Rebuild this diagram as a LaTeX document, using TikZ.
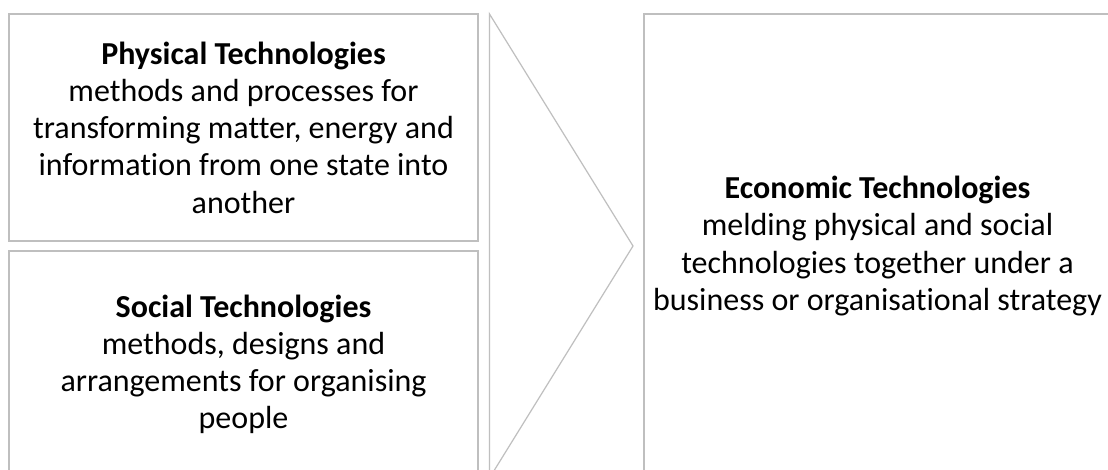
\documentclass[tikz,border=0pt]{standalone}
\usepackage{fontspec}
\setmainfont{Carlito}[Ligatures={NoCommon}]
\definecolor{edgegray}{RGB}{191,191,191}
\tikzset{
  panel/.style={draw=edgegray, line width=1.2pt, fill=white, align=center,
    font=\fontsize{32}{37.2}\selectfont, inner sep=0pt, text=black},
  arrowshape/.style={draw=edgegray, line width=1.2pt, fill=white, line join=miter}
}
\begin{document}
\begin{tikzpicture}[x=1pt,y=-1pt]
\useasboundingbox (0,0) rectangle (1108,470);
\fill[white] (0,0) rectangle (1108,470);
\clip (0,0) rectangle (1108,470);
\node[panel, minimum width=469pt, minimum height=227pt] (phys) at (243.5,127.5)
  {\textbf{Physical Technologies}\\methods and processes for\\transforming matter, energy and\\information from one state into\\another};
\node[panel, minimum width=469pt, minimum height=227pt] (soc) at (243.5,364.5)
  {\textbf{Social Technologies}\\methods, designs and\\arrangements for organising\\people};
\coordinate (chtop) at (489.5,14);
\coordinate (chtip) at (633,246);
\coordinate (chbot) at (489.5,478);
\draw[arrowshape] (chtop) -- (chtip) -- (chbot) -- cycle;
\node[panel, minimum width=467pt, minimum height=464pt] (econ) at (877.5,246)
  {\textbf{Economic Technologies}\\melding physical and social\\technologies together under a\\business or organisational strategy};
\end{tikzpicture}
\end{document}
